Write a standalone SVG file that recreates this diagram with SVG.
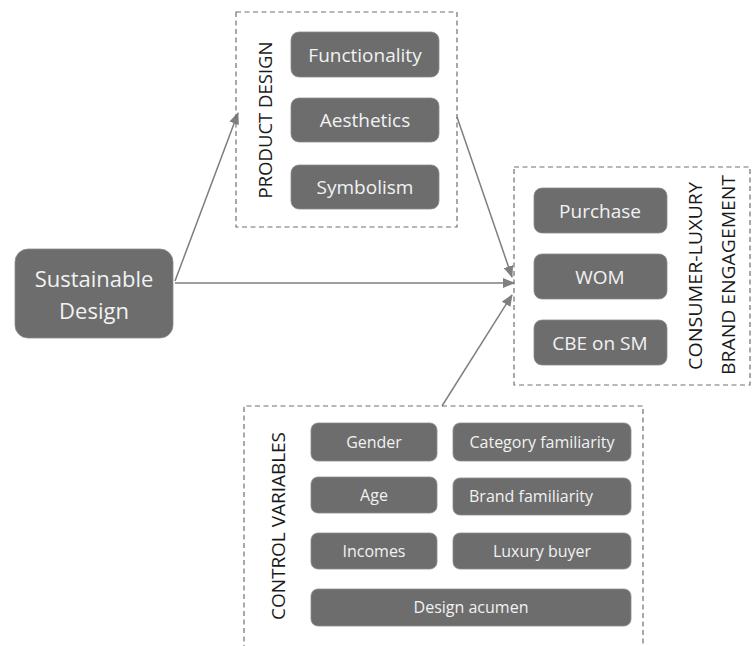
<svg xmlns="http://www.w3.org/2000/svg" width="753" height="646" viewBox="0 0 753 646">
<style>
.bg{fill:#ffffff}
.grp{fill:none;stroke:#707070;stroke-width:1.2;stroke-dasharray:5,3.5}
.box{fill:#6d6d6d;stroke:#8a8a8a;stroke-width:0.8}
.bt{font-family:"Open Sans","Noto Sans",sans-serif;fill:#f2f2f2;text-anchor:middle}
.b1{font-size:19px}
.b2{font-size:16px}
.big{font-size:22px}
.vl{font-family:"Open Sans","Noto Sans",sans-serif;font-size:19px;font-weight:400;fill:#1a1a1a;text-anchor:middle}
.con{fill:none;stroke:#7f7f7f;stroke-width:1.5}
</style>
<defs>
<marker id="ah" markerUnits="userSpaceOnUse" markerWidth="12" markerHeight="10" refX="11" refY="5" orient="auto">
<path d="M0,0 L12,5 L0,10 z" fill="#7f7f7f"/>
</marker>
</defs>
<rect class="bg" x="0" y="0" width="753" height="646"/>

<g id="connectors">
<line class="con" x1="175" y1="281" x2="238" y2="113" marker-end="url(#ah)"/>
<line class="con" x1="175" y1="283" x2="514" y2="283" marker-end="url(#ah)"/>
<line class="con" x1="457" y1="117" x2="512" y2="277" marker-end="url(#ah)"/>
<line class="con" x1="442" y1="406" x2="512" y2="295" marker-end="url(#ah)"/>
</g>

<g id="sustainable-design">
<rect class="box" x="15" y="249" width="158" height="89" rx="13"/>
<text class="bt big" x="94" y="287">Sustainable</text>
<text class="bt big" x="94" y="319">Design</text>
</g>

<g id="product-design">
<rect class="grp" x="236" y="12" width="221" height="215"/>
<text class="vl" transform="translate(272,120) rotate(-90)" textLength="157" lengthAdjust="spacingAndGlyphs">PRODUCT DESIGN</text>
<g id="functionality"><rect class="box" x="291" y="32" width="148" height="45" rx="8"/><text class="bt b1" x="365" y="62">Functionality</text></g>
<g id="aesthetics"><rect class="box" x="291" y="98" width="148" height="44" rx="8"/><text class="bt b1" x="365" y="127">Aesthetics</text></g>
<g id="symbolism"><rect class="box" x="291" y="165" width="148" height="44" rx="8"/><text class="bt b1" x="365" y="194">Symbolism</text></g>
</g>

<g id="consumer-luxury-brand-engagement">
<rect class="grp" x="514" y="167" width="236" height="218"/>
<text class="vl" transform="translate(702,276) rotate(-90)" textLength="188" lengthAdjust="spacingAndGlyphs">CONSUMER-LUXURY</text>
<text class="vl" transform="translate(735,275) rotate(-90)" textLength="200" lengthAdjust="spacingAndGlyphs">BRAND ENGAGEMENT</text>
<g id="purchase"><rect class="box" x="534" y="188" width="133" height="45" rx="8"/><text class="bt b1" x="600" y="218">Purchase</text></g>
<g id="wom"><rect class="box" x="534" y="254" width="133" height="45" rx="8"/><text class="bt b1" x="600" y="284">WOM</text></g>
<g id="cbe-on-sm"><rect class="box" x="534" y="320" width="133" height="45" rx="8"/><text class="bt b1" x="600" y="350">CBE on SM</text></g>
</g>

<g id="control-variables">
<path class="grp" d="M244,650 L244,406 L643,406 L643,650"/>
<text class="vl" transform="translate(285,526) rotate(-90)" textLength="188" lengthAdjust="spacingAndGlyphs">CONTROL VARIABLES</text>
<g id="gender"><rect class="box" x="311" y="423" width="126" height="38" rx="7"/><text class="bt b2" x="374" y="448">Gender</text></g>
<g id="category-familiarity"><rect class="box" x="453" y="423" width="178" height="38" rx="7"/><text class="bt b2" x="542" y="448">Category familiarity</text></g>
<g id="age"><rect class="box" x="311" y="477" width="126" height="36" rx="7"/><text class="bt b2" x="374" y="501">Age</text></g>
<g id="brand-familiarity"><rect class="box" x="453" y="478" width="178" height="37" rx="7"/><text class="bt b2" x="531" y="502">Brand familiarity</text></g>
<g id="incomes"><rect class="box" x="311" y="533" width="126" height="36" rx="7"/><text class="bt b2" x="374" y="557">Incomes</text></g>
<g id="luxury-buyer"><rect class="box" x="453" y="533" width="178" height="36" rx="7"/><text class="bt b2" x="542" y="557">Luxury buyer</text></g>
<g id="design-acumen"><rect class="box" x="311" y="589" width="320" height="37" rx="7"/><text class="bt b2" x="471" y="613">Design acumen</text></g>
</g>
</svg>
